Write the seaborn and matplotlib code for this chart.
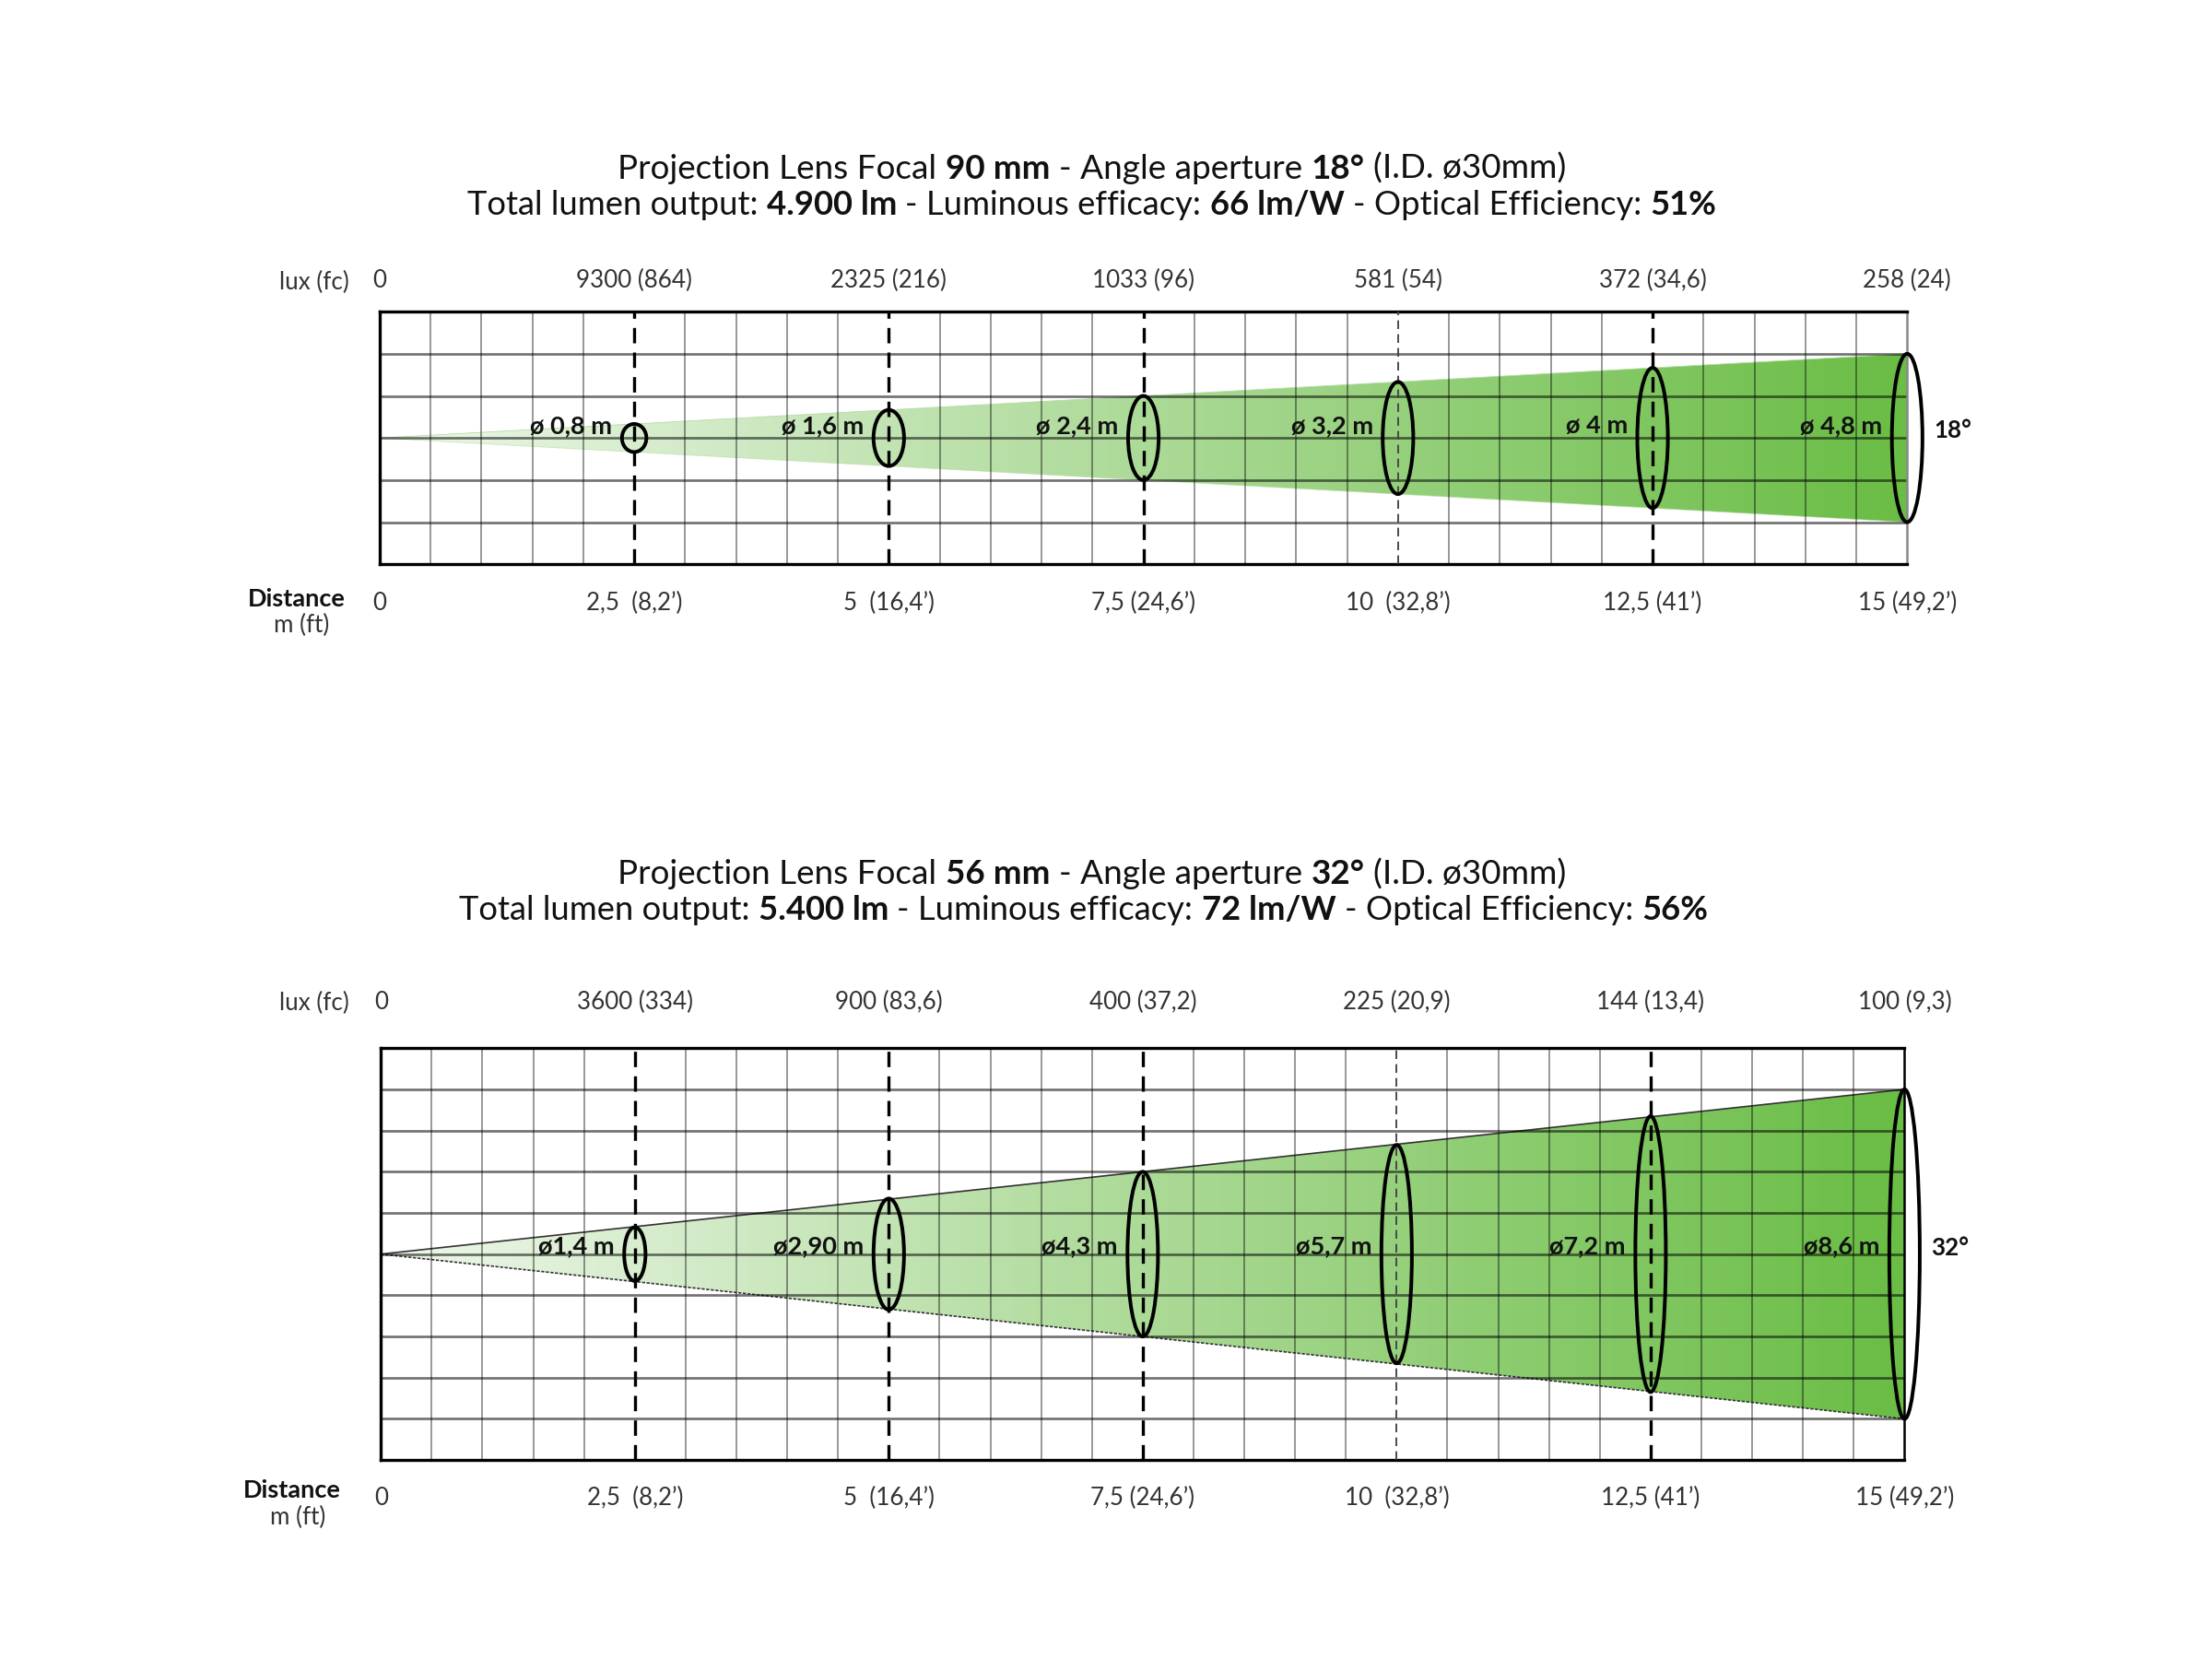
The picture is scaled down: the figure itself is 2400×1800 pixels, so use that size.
import numpy as np
import matplotlib
matplotlib.use("Agg")
import matplotlib.pyplot as plt
import seaborn as sns
from matplotlib.patches import Ellipse, Polygon
from matplotlib.colors import LinearSegmentedColormap
from matplotlib.font_manager import FontProperties

# ---------------- data ----------------
distances = [2.5, 5, 7.5, 10, 12.5, 15]
distance_labels = ["0", "2,5  (8,2\u2019)", "5  (16,4\u2019)", "7,5 (24,6\u2019)",
                   "10  (32,8\u2019)", "12,5 (41\u2019)", "15 (49,2\u2019)"]

top_diameters = [0.8, 1.6, 2.4, 3.2, 4.0, 4.8]
top_diam_labels = ["\u00f8 0,8 m", "\u00f8 1,6 m", "\u00f8 2,4 m", "\u00f8 3,2 m", "\u00f8 4 m", "\u00f8 4,8 m"]
top_lux_labels = ["0", "9300 (864)", "2325 (216)", "1033 (96)", "581 (54)", "372 (34,6)", "258 (24)"]
top_angle = "18\u00b0"
top_title1 = [("Projection Lens Focal ", False), ("90 mm", True), (" - Angle aperture ", False),
              ("18\u00b0", True), (" (I.D. \u00f830mm)", False)]
top_title2 = [("Total lumen output: ", False), ("4.900 lm", True), (" - Luminous efficacy: ", False),
              ("66 lm/W", True), (" - Optical Efficiency: ", False), ("51%", True)]

bot_diameters = [1.4, 2.9, 4.3, 5.7, 7.2, 8.6]
bot_diam_labels = ["\u00f81,4 m", "\u00f82,90 m", "\u00f84,3 m", "\u00f85,7 m", "\u00f87,2 m", "\u00f88,6 m"]
bot_lux_labels = ["0", "3600 (334)", "900 (83,6)", "400 (37,2)", "225 (20,9)", "144 (13,4)", "100 (9,3)"]
bot_angle = "32\u00b0"
bot_title1 = [("Projection Lens Focal ", False), ("56 mm", True), (" - Angle aperture ", False),
              ("32\u00b0", True), (" (I.D. \u00f830mm)", False)]
bot_title2 = [("Total lumen output: ", False), ("5.400 lm", True), (" - Luminous efficacy: ", False),
              ("72 lm/W", True), (" - Optical Efficiency: ", False), ("56%", True)]

# ---------------- style ----------------
sns.set_theme(style="white")
plt.rcParams["font.family"] = ["Lato", "DejaVu Sans"]
TXT = "#333333"
LABEL_SIZE = 12.5
LABEL_WEIGHT = "normal"

fig = plt.figure(figsize=(16, 12), dpi=150)
fig.patch.set_facecolor("white")
renderer = fig.canvas.get_renderer()

beam_cmap = LinearSegmentedColormap.from_list("beam", ["#eef7ea", "#6abd45"])


def text_w(s, size, bold):
    fp = FontProperties(family=["Lato", "DejaVu Sans"], size=size,
                        weight="bold" if bold else "normal")
    w, h, d = renderer.get_text_width_height_descent(s, fp, ismath=False)
    return w


def seg_advance(s, size, bold):
    return text_w("|" + s + "|", size, bold) - text_w("||", size, bold)


def draw_title(segments, xc, y, target_w, size0=14):
    W = fig.get_figwidth() * fig.dpi
    tot = sum(seg_advance(s, size0, b) for s, b in segments)
    size = size0 * target_w * W / tot
    tot = sum(seg_advance(s, size, b) for s, b in segments)
    x = xc * W - tot / 2
    for s, b in segments:
        core = s.strip(" ")
        lead = len(s) - len(s.lstrip(" "))
        x += lead * seg_advance(" ", size, b)
        fig.text(x / W, y, core, ha="left", va="baseline", fontsize=size,
                 fontweight="bold" if b else "normal", color="#111111")
        x += seg_advance(core, size, b)
        trail = len(s) - len(s.rstrip(" "))
        x += trail * seg_advance(" ", size, b)


def panel(rect, diameters, diam_labels, lux_labels, angle_label, rows,
          first_w, edge_color, edge_lw, right_spine, lux_pad, dist_pad, lab_dy, ang_dy):
    ax = fig.add_axes(rect)
    R = diameters[-1] / 2
    row_h = R / (rows / 2 - 1)
    ylim = rows / 2 * row_h
    xmax = distances[-1]

    # gradient beam
    grad = np.linspace(0, 1, 512).reshape(1, -1)
    im = ax.imshow(grad, cmap=beam_cmap, extent=[0, xmax, -R, R], aspect="auto",
                   origin="lower", zorder=1, interpolation="bilinear")
    poly = Polygon([[0, 0], [xmax, R], [xmax, -R]], closed=True,
                   facecolor="none", edgecolor="none", transform=ax.transData)
    ax.add_patch(poly)
    im.set_clip_path(poly)

    # beam edges (seaborn)
    sns.lineplot(x=[0, xmax], y=[0, R], ax=ax, color=edge_color, lw=edge_lw, zorder=2)
    sns.lineplot(x=[0, xmax], y=[0, -R], ax=ax, color=edge_color, lw=edge_lw,
                 linestyle=(0, (2, 1)), zorder=2)

    # grid
    vx = [v for v in np.arange(0.5, xmax, 0.5) if not any(abs(v - d) < 1e-6 for d in distances)]
    ax.vlines(vx, -ylim, ylim, colors="black", alpha=0.42, lw=0.9, zorder=2)
    hy = np.arange(1, rows) * row_h - ylim
    ax.hlines(hy, 0, xmax, colors="black", alpha=0.55, lw=1.3, zorder=2)

    # dashed reference lines
    for i, d in enumerate(distances[:-1]):
        if i == 3:
            ax.axvline(d, color="#444444", lw=0.9, ls=(0, (5, 3)), zorder=3)
        else:
            ax.axvline(d, color="black", lw=1.6, ls=(0, (5, 3)), zorder=3)

    # ellipses and labels
    widths = [first_w] + [0.3] * (len(diameters) - 1)
    for d, D, w, lab in zip(distances, diameters, widths, diam_labels):
        ax.add_patch(Ellipse((d, 0), w, D, fill=False, ec="black", lw=1.9,
                             zorder=5, clip_on=False))
        ax.annotate(lab, xy=(d - w / 2, 0), xytext=(-5, lab_dy), textcoords="offset points",
                    ha="right", va="baseline", fontsize=13, fontweight="bold",
                    color="#111111", zorder=6)
    ax.annotate(angle_label, xy=(xmax + widths[-1] / 2, 0), xytext=(6, ang_dy),
                textcoords="offset points", ha="left", va="baseline", fontsize=12.5,
                fontweight="bold", color="#111111", annotation_clip=False)

    ax.set_xlim(0, xmax)
    ax.set_ylim(-ylim, ylim)
    ax.set_yticks([])
    ax.set_xticks([0] + distances)
    ax.set_xticklabels(distance_labels, fontweight=LABEL_WEIGHT)
    ax.tick_params(axis="x", length=0, pad=dist_pad, labelsize=LABEL_SIZE, labelcolor=TXT)
    ax.set_xlabel("")
    ax.set_ylabel("")

    sec = ax.secondary_xaxis("top")
    sec.set_xticks([0] + distances)
    sec.set_xticklabels(lux_labels, fontweight=LABEL_WEIGHT)
    sec.tick_params(length=0, pad=lux_pad, labelsize=LABEL_SIZE, labelcolor=TXT)
    for s in sec.spines.values():
        s.set_visible(False)

    for s in ["top", "left", "bottom"]:
        ax.spines[s].set_visible(True)
        ax.spines[s].set_color("black")
        ax.spines[s].set_linewidth(1.6)
    ax.spines["right"].set_visible(True)
    ax.spines["right"].set_color(right_spine)
    ax.spines["right"].set_linewidth(1.2)
    ax.set_facecolor("white")
    return ax


# top panel
panel([0.1716, 0.6599, 0.8622 - 0.1716, 0.8121 - 0.6599], top_diameters, top_diam_labels,
      top_lux_labels, top_angle, rows=6, first_w=0.24, edge_color="#b5dca5", edge_lw=0.4,
      right_spine="#888888", lux_pad=10, dist_pad=14.5, lab_dy=2.5, ang_dy=0)
# bottom panel
panel([0.1722, 0.1199, 0.861 - 0.1722, 0.3682 - 0.1199], bot_diameters, bot_diam_labels,
      bot_lux_labels, bot_angle, rows=10, first_w=0.21, edge_color="#333333", edge_lw=0.8,
      right_spine="black", lux_pad=18, dist_pad=14, lab_dy=0.5, ang_dy=-0.5)

# titles
draw_title(top_title1, 0.4936, 0.8922, 0.4286)
draw_title(top_title2, 0.4936, 0.8705, 0.5657)
draw_title(bot_title1, 0.4936, 0.4671, 0.4286)
draw_title(bot_title2, 0.4898, 0.4454, 0.5650)

# side labels
fig.text(0.158, 0.8300, "lux (fc)", ha="right", va="center", fontsize=LABEL_SIZE,
         fontweight=LABEL_WEIGHT, color=TXT)
fig.text(0.158, 0.3955, "lux (fc)", ha="right", va="center", fontsize=LABEL_SIZE,
         fontweight=LABEL_WEIGHT, color=TXT)
fig.text(0.1339, 0.6390, "Distance", ha="center", va="center", fontsize=13,
         fontweight="bold", color="#111111")
fig.text(0.1365, 0.6228, "m (ft)", ha="center", va="center", fontsize=LABEL_SIZE,
         fontweight=LABEL_WEIGHT, color=TXT)
fig.text(0.1320, 0.1016, "Distance", ha="center", va="center", fontsize=13,
         fontweight="bold", color="#111111")
fig.text(0.1346, 0.0854, "m (ft)", ha="center", va="center", fontsize=LABEL_SIZE,
         fontweight=LABEL_WEIGHT, color=TXT)

fig.savefig("out.png", dpi=150, facecolor="white")
